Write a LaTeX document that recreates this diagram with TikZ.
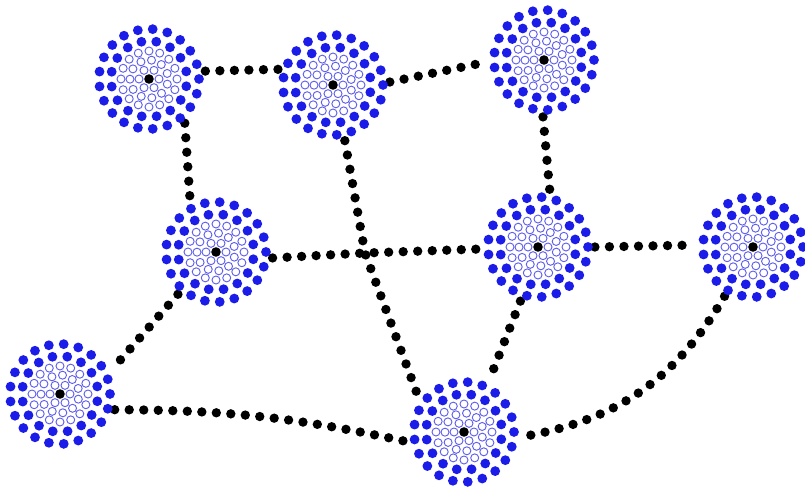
\documentclass[tikz,border=0pt]{standalone}
\usepackage{xcolor}
\usetikzlibrary{calc}
\definecolor{hubblue}{RGB}{28,28,232}
\definecolor{ringblue}{RGB}{95,95,235}

\begin{document}
\begin{tikzpicture}[x=0.03cm,y=-0.03cm,
  hub/.style={circle,inner sep=0pt,minimum size=3.4cm},
  link/.style={line width=8pt,line cap=round,dash pattern=on 0pt off 12.4pt}]
\useasboundingbox (0,0) rectangle (805,492);

% hubs
\node[hub] (A) at (149,79) {};
\node[hub] (B) at (333,85) {};
\node[hub] (C) at (544,60) {};
\node[hub] (D) at (216,252) {};
\node[hub] (E) at (538,247) {};
\node[hub] (F) at (753,247) {};
\node[hub] (G) at (60,394) {};
\node[hub] (H) at (464,432) {};
\coordinate (J) at (365,253);

% dotted links
\draw[link] (A.8) -- (B.164);
\draw[link] (B.3) -- (C.182);
\draw[link] (A.-51) -- (D.117);
\draw[link] (C.-91) -- (E.78);
\draw[link] (D.-6) -- (J) -- (E.182);
\draw[link] (B.-78) -- (J) -- (H.143);
\draw[link] (E.0) -- (F.178);
\draw[link] (D.228) -- (G.25);
\draw[link] (E.-108) -- (H.64);
\draw[link] (G.-16) to[bend left=6] (H.190);
\draw[link] (F.240) to[bend left=25] (H.-5);

% rings of dots
\foreach \n in {A,B,C,D,E,F,G,H} {
  \foreach \k in {1,...,21} \fill[hubblue] (\n) ++(\k*17.14:50) circle (4.9);
  \foreach \k in {1,...,16} \fill[hubblue] (\n) ++(\k*22.5+11:38) circle (4.9);
  \foreach \k in {1,...,16} \draw[ringblue,line width=0.8pt] (\n) ++(\k*22.5:28) circle (4);
  \foreach \k in {1,...,11} \draw[ringblue,line width=0.8pt] (\n) ++(\k*32.7+16:19) circle (4);
  \foreach \k in {1,...,6} \draw[ringblue,line width=0.8pt] (\n) ++(\k*60:10) circle (4);
  \fill (\n) circle (4.8);
}
\end{tikzpicture}
\end{document}
